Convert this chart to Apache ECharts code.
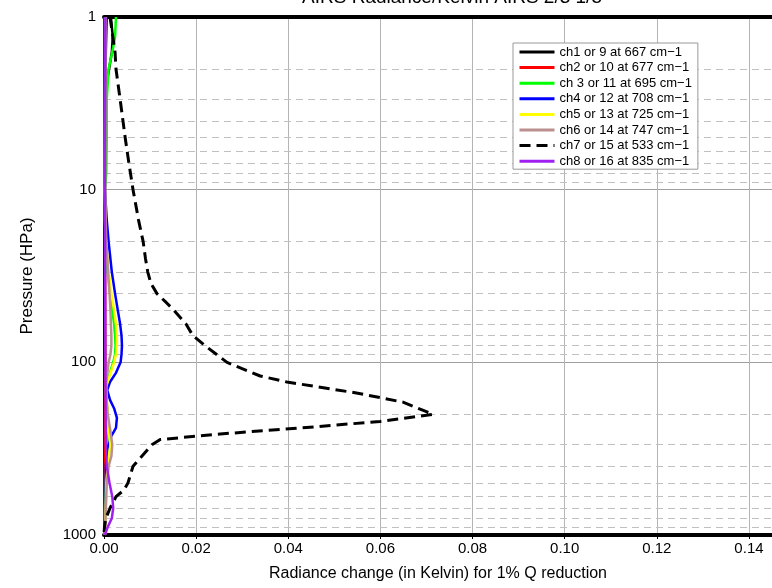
<!DOCTYPE html>
<html><head><meta charset="utf-8">
<script src="https://cdn.jsdelivr.net/npm/echarts@6/dist/echarts.min.js"></script>
<style>html,body{margin:0;padding:0;background:#fff}#c{width:772px;height:588px}</style>
</head><body><div id="c"></div>
<script>
const xTicks = [0,0.02,0.04,0.06,0.08,0.10,0.12,0.14];
const yTicks = [1,10,100,1000];
const minorLevels = [2,3,4,5,6,7,8,9,20,30,40,50,60,70,80,90,200,300,400,500,600,700,800,900];
const names = ['ch1 or 9 at 667 cm\u22121','ch2 or 10 at 677 cm\u22121','ch 3 or 11 at 695 cm\u22121','ch4 or 12 at 708 cm\u22121','ch5 or 13 at 725 cm\u22121','ch6 or 14 at 747 cm\u22121','ch7 or 15 at 533 cm\u22121','ch8 or 16 at 835 cm\u22121'];

const ch1P = [1,1.3,1.6,2,2.5,3,4,10,100,1000];
const ch1V = [0.0015,0.0019,0.0017,0.0011,0.0005,0.0002,0.0001,0.0001,0.0001,0.0001];
const ch2P = [1,10,100,300,1000];
const ch2V = [0.0003,0.0002,0.0003,0.0002,0.0001];
const ch3P = [1,1.3,1.5,2,3,5,8,10,15,20,30,40,50,60,70,80,90,100,110,130,150,200,250,300,400,600,1000];
const ch3V = [0.0026,0.0024,0.0020,0.0010,0.0006,0.0006,0.0005,0.0002,0.0002,0.0004,0.0008,0.0013,0.0018,0.0022,0.0024,0.0025,0.0024,0.0020,0.0015,0.0007,0.0004,0.0008,0.0010,0.0008,0.0005,0.0003,0.0001];
const ch4P = [1,2,5,10,15,20,30,40,50,60,70,80,90,100,115,130,145,165,185,210,240,270,320,400,500,700,1000];
const ch4V = [0.0006,0.0003,0.0002,0.0002,0.0006,0.0010,0.0017,0.0024,0.0030,0.0035,0.0038,0.0039,0.0038,0.0036,0.0026,0.0013,0.0007,0.0013,0.0022,0.0028,0.0026,0.0015,0.0007,0.0004,0.0004,0.0003,0.0001];
const ch5P = [1,10,20,30,40,50,60,70,80,90,100,120,140,160,200,250,300,400,500,1000];
const ch5V = [0.0003,0.0002,0.0004,0.0010,0.0016,0.0022,0.0026,0.0028,0.0028,0.0026,0.0022,0.0012,0.0004,0.0006,0.0008,0.0010,0.0014,0.0008,0.0005,0.0002];
const ch6P = [1,10,20,30,40,50,60,70,80,90,100,130,170,200,250,300,350,400,500,1000];
const ch6V = [0.0002,0.0002,0.0005,0.0009,0.0012,0.0014,0.0015,0.0016,0.0016,0.0014,0.0010,0.0005,0.0006,0.0008,0.0014,0.0018,0.0016,0.0010,0.0006,0.0002];
const ch7P = [1,1.6,2,3,5,7,10,15,20,25,30,35,40,45,50,60,70,80,100,120,130,150,170,200,220,240,260,280,300,400,500,550,600,700,800,900,1000];
const ch7V = [0.0013,0.0024,0.0026,0.0035,0.0046,0.0054,0.0063,0.0075,0.0085,0.0090,0.0095,0.0102,0.0115,0.0135,0.0152,0.0178,0.0193,0.0219,0.0267,0.0339,0.0397,0.0545,0.0649,0.0714,0.0599,0.0426,0.0252,0.0122,0.0104,0.0063,0.0052,0.0043,0.0026,0.0013,0.0004,0.0001,0];
const ch8P = [1,10,100,300,400,500,600,700,800,900,1000];
const ch8V = [0.0003,0.0002,0.0003,0.0004,0.0006,0.0012,0.0018,0.0020,0.0017,0.0008,0.0002];

const colors = ['#000000','#ff0000','#00ff00','#0000ff','#ffff00','#bc8f8f','#000000','#a020f0'];
const allP = [ch1P,ch2P,ch3P,ch4P,ch5P,ch6P,ch7P,ch8P];
const allV = [ch1V,ch2V,ch3V,ch4V,ch5V,ch6V,ch7V,ch8V];

const series = names.map((n,i)=>({
  name:n, type:'line', symbol:'none', smooth:false,
  data: allP[i].map((p,k)=>[allV[i][k], p]),
  lineStyle:{color:colors[i], width: i===6?3:2.5, type: i===6?[11,6]:'solid'},
  itemStyle:{color:colors[i]},
  z: 3+i
}));
series[0].markLine = {
  silent:true, symbol:'none', label:{show:false},
  lineStyle:{color:'#c0c0c0', type:[7,5], width:1},
  data: minorLevels.map(v=>({yAxis:v}))
};
series[0].markLine.z = 1;

const chart = echarts.init(document.getElementById('c'));
chart.setOption({
  animation:false,
  backgroundColor:'#fff',
  title:{text:'AIRS Radiance/Kelvin AIRS 2/3 1/5', left:447, textAlign:'center', top:-17, textStyle:{fontSize:19, fontWeight:'normal', color:'#000', fontFamily:'Liberation Sans'}},
  grid:{left:104, right:0, top:17, bottom:53, containLabel:false},
  legend:{
    orient:'vertical', left:513, top:43, itemWidth:35, itemHeight:10, itemGap:1.6,
    padding:[2,6,1,5], backgroundColor:'#fff', borderColor:'#999', borderWidth:1,
    itemStyle:{opacity:0},
    lineStyle:{width:3},
    textStyle:{fontSize:13, lineHeight:14, color:'#000', fontFamily:'Liberation Sans'},
    data:names
  },
  xAxis:[{
    type:'value', min:0, max:0.145, interval:0.02,
    axisLine:{show:true, onZero:false, lineStyle:{color:'#000', width:4}},
    axisTick:{show:true, length:4, lineStyle:{color:'#000'}},
    axisLabel:{fontSize:15, color:'#000', fontFamily:'Liberation Sans', margin:6, formatter:v=>v.toFixed(2), showMaxLabel:false},
    splitLine:{show:true, lineStyle:{color:'#b4b4b4', width:1}},
    name:'Radiance change (in Kelvin) for 1% Q reduction', nameLocation:'middle', nameGap:31,
    nameTextStyle:{fontSize:16, color:'#000', fontFamily:'Liberation Sans'}
  },{
    type:'value', min:0, max:0.145, interval:0.02, position:'top',
    axisLine:{show:true, onZero:false, lineStyle:{color:'#000', width:4}},
    axisTick:{show:false}, axisLabel:{show:false}, splitLine:{show:false}
  }],
  yAxis:{
    type:'log', logBase:10, min:1, max:1000, inverse:true,
    axisLine:{show:true, lineStyle:{color:'#000', width:2}},
    axisTick:{show:false},
    axisLabel:{fontSize:15, color:'#000', fontFamily:'Liberation Sans', margin:8, formatter:v=>String(Math.round(v))},
    splitLine:{show:true, lineStyle:{color:'#a0a0a0', width:1}},
    minorTick:{show:false}, minorSplitLine:{show:false},
    name:'Pressure (HPa)', nameLocation:'middle', nameGap:68, nameRotate:90,
    nameTextStyle:{fontSize:17, color:'#000', fontFamily:'Liberation Sans'}
  },
  series: series
});
</script></body></html>
